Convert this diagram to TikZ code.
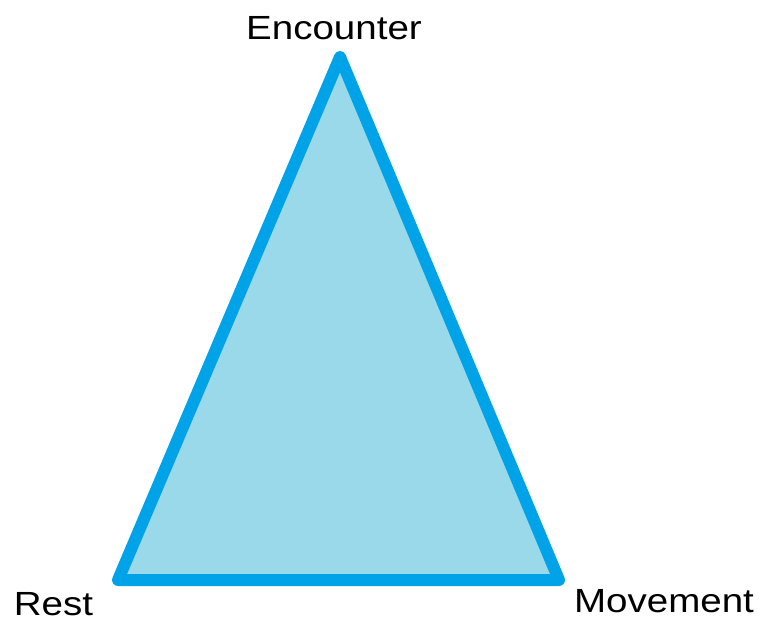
\documentclass[tikz,border=0pt]{standalone}
\usepackage{fontspec}
\setmainfont{Liberation Sans}
\definecolor{edgeblue}{HTML}{00A2E8}
\definecolor{fillblue}{HTML}{99D9EA}

\begin{document}
\begin{tikzpicture}[
    x=1pt, y=-1pt,                          % <- one unit = one pixel of the sketch
    corner/.style={font=\fontsize{33.5}{40}\selectfont, xscale=1.15, anchor=base, inner sep=0pt},
    side/.style={draw=edgeblue, fill=fillblue, line width=12pt, line join=round},
  ]
  \useasboundingbox (0,0) rectangle (759,622);

  % ---------- triangle corners ----------
  \coordinate (top) at (340,57);
  \coordinate (bl)  at (118,580);
  \coordinate (br)  at (559,580);

  % ---------- triangle ----------
  \draw[side] (top) -- (br) -- (bl) -- cycle;

  % ---------- corner labels ----------
  \node[corner] (encounter) at (334,39)  {Encounter};
  \node[corner] (rest)      at (53.5,615) {Rest};
  \node[corner] (movement)  at (664,612) {Movement};

\end{tikzpicture}
\end{document}
